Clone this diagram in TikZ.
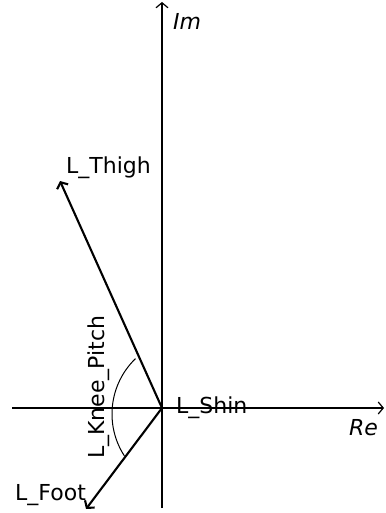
\documentclass[tikz,border=0pt]{standalone}
\usepackage{fontspec}
\setmainfont{DejaVu Sans}
\usetikzlibrary{arrows.meta}

\begin{document}
\begin{tikzpicture}[x=1pt,y=-1pt,
        axis/.style={line width=1.2pt, -{Straight Barb[length=5pt,width=12pt]}},
        vec/.style={line width=2.1pt, -{Straight Barb[length=5pt,width=12pt]}},
        lbl/.style={font=\fontsize{22}{26}\selectfont, inner sep=0pt},
      ]
      \useasboundingbox (0,0) rectangle (385,513);
      % axes
      \coordinate (O) at (162,408);
      \coordinate (reL) at (12,408);
      \coordinate (reR) at (384,408);
      \coordinate (imB) at (162,508);
      \coordinate (imT) at (162,2);
      \draw[axis] (reL) -- (reR);
      \draw[axis] (imB) -- (imT);
      \node[lbl, font=\fontsize{22}{26}\selectfont\itshape, anchor=base west] (re) at (349,435) {Re};
      \node[lbl, font=\fontsize{22}{26}\selectfont\itshape, anchor=base west] (im) at (173,30) {Im};
      % segments
      \coordinate (thigh) at (60,181);
      \coordinate (foot) at (86,509);
      \draw[vec] (O) -- (thigh);
      \draw[vec] (O) -- (foot);
      \node[lbl, anchor=base west] (thighlbl) at (66,173) {L\_Thigh};
      \node[lbl, anchor=base west] (shinlbl) at (176,413) {L\_Shin};
      \node[lbl, anchor=base west] (footlbl) at (15,500) {L\_Foot};
      % knee angle
      \coordinate (kc) at (189,414);
      \draw[line width=1pt] ([shift={(226:77)}]kc) arc[start angle=226, end angle=147, radius=77];
      \node[lbl, rotate=90, anchor=base west] (kneelbl) at (104,459) {L\_Knee\_Pitch};
    \end{tikzpicture}
\end{document}
